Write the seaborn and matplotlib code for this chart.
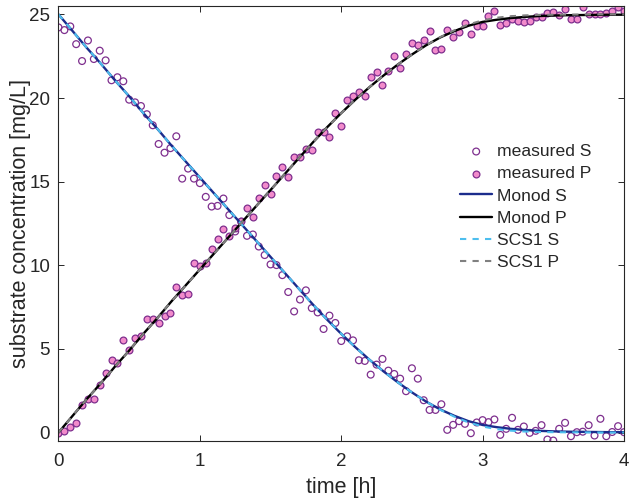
import numpy as np
import pandas as pd
import matplotlib
matplotlib.use("Agg")
import matplotlib.pyplot as plt
import seaborn as sns

# sampling times of the measurements [h] (every 2.5 min)
t_meas = np.arange(97) / 24

s_meas = [24.22, 24.06, 24.28, 23.22, 22.21, 23.44, 22.33, 22.83, 22.25, 21.06,
          21.24, 21.00, 19.90, 19.74, 19.52, 19.03, 18.37, 17.25, 16.73, 17.00,
          17.71, 15.18, 15.78, 15.18, 14.91, 14.09, 13.51, 13.55, 13.99, 13.00,
          12.02, 12.60, 11.76, 11.84, 11.12, 10.61, 10.05, 10.01, 9.41, 8.40,
          7.24, 7.95, 8.50, 7.44, 7.18, 6.19, 6.99, 6.55, 5.47, 5.75,
          5.51, 4.32, 4.28, 3.46, 4.06, 4.40, 3.70, 3.50, 3.22, 2.47,
          3.84, 3.22, 1.93, 1.35, 1.35, 1.69, 0.16, 0.46, 0.68, 0.52,
          -0.04, 0.60, 0.74, 0.62, 0.78, -0.14, 0.22, 0.88, 0.16, 0.36,
          -0.02, 0.10, 0.44, -0.42, -0.48, 0.22, 0.58, -0.22, 0.02, 0.05,
          0.44, -0.18, 0.82, -0.22, 0.03, 0.38, 0.02]

p_meas = [0.00, 0.12, 0.32, 0.54, 1.63, 2.03, 2.03, 2.83, 3.56, 4.32,
          4.18, 5.51, 4.93, 5.65, 5.75, 6.81, 6.81, 6.53, 6.94, 7.14,
          8.73, 8.20, 8.30, 10.13, 9.93, 10.11, 11.00, 11.56, 12.16, 11.76,
          12.20, 12.66, 13.45, 12.86, 14.05, 14.79, 14.29, 15.34, 15.90, 15.30,
          16.50, 16.50, 16.96, 16.91, 17.99, 17.99, 17.69, 19.09, 18.35, 19.86,
          20.14, 20.38, 20.12, 21.27, 21.53, 20.76, 21.63, 22.51, 21.77, 22.61,
          23.30, 23.15, 23.46, 23.98, 22.87, 22.94, 24.06, 23.64, 23.96, 24.46,
          23.82, 24.30, 24.30, 24.91, 25.21, 24.36, 24.50, 24.70, 24.62, 24.52,
          24.62, 24.85, 24.85, 25.06, 25.12, 24.95, 25.31, 24.73, 24.73, 25.47,
          25.01, 25.01, 25.00, 25.06, 25.18, 25.45, 25.21]

# model curves, read every 0.1 h
t_model = np.round(np.arange(41) * 0.1, 1)
monod_s = [25.00, 24.00, 23.00, 22.05, 21.05, 20.10, 19.10, 18.15, 17.15, 16.20,
           15.25, 14.30, 13.35, 12.40, 11.45, 10.50, 9.55, 8.60, 7.65, 6.75,
           5.90, 5.10, 4.35, 3.65, 3.00, 2.40, 1.85, 1.38, 1.00, 0.68,
           0.45, 0.32, 0.22, 0.15, 0.10, 0.07, 0.05, 0.04, 0.03, 0.02, 0.02]
monod_p = [0.00, 1.00, 2.00, 2.95, 3.95, 4.90, 5.90, 6.85, 7.85, 8.80,
           9.75, 10.70, 11.65, 12.60, 13.55, 14.50, 15.45, 16.40, 17.35, 18.25,
           19.10, 19.90, 20.65, 21.35, 22.00, 22.60, 23.15, 23.62, 24.00, 24.32,
           24.55, 24.68, 24.78, 24.85, 24.90, 24.93, 24.95, 24.96, 24.97, 24.98, 24.98]
scs1_s = [25.00, 24.00, 23.00, 22.05, 21.05, 20.10, 19.10, 18.15, 17.15, 16.20,
          15.25, 14.30, 13.35, 12.40, 11.45, 10.50, 9.55, 8.60, 7.65, 6.75,
          5.90, 5.10, 4.35, 3.65, 3.00, 2.40, 1.85, 1.36, 0.95, 0.60,
          0.36, 0.20, 0.11, 0.06, 0.03, 0.02, 0.01, 0.01, 0.00, 0.00, 0.00]
scs1_p = [0.00, 1.00, 2.00, 2.95, 3.95, 4.90, 5.90, 6.85, 7.85, 8.80,
          9.75, 10.70, 11.65, 12.60, 13.55, 14.50, 15.45, 16.40, 17.35, 18.25,
          19.10, 19.90, 20.65, 21.35, 22.00, 22.60, 23.15, 23.64, 24.05, 24.40,
          24.64, 24.80, 24.89, 24.94, 24.97, 24.98, 24.99, 24.99, 25.00, 25.00, 25.00]

meas = pd.DataFrame({"t": t_meas, "S": s_meas, "P": p_meas})
model = pd.DataFrame({"t": t_model, "monod_s": monod_s, "monod_p": monod_p,
                      "scs1_s": scs1_s, "scs1_p": scs1_p})

sns.set_style("ticks")
plt.rcParams["font.family"] = ["Liberation Sans", "DejaVu Sans"]
dark = "#262626"
purple = "#7E2F8E"

fig = plt.figure(figsize=(6.29, 5.01), dpi=100)
ax = fig.add_axes([0.093, 0.12, 0.899, 0.868])

sns.scatterplot(data=meas, x="t", y="S", ax=ax, marker="o", s=24,
                facecolor="none", edgecolor=purple, linewidth=0.9,
                label="measured S")
sns.scatterplot(data=meas, x="t", y="P", ax=ax, marker="o", s=24,
                color="#F28BCB", edgecolor=purple, linewidth=0.9,
                label="measured P")
sns.lineplot(data=model, x="t", y="monod_s", ax=ax, color="#1B2C8C", lw=1.7,
             label="Monod S")
sns.lineplot(data=model, x="t", y="monod_p", ax=ax, color="black", lw=1.7,
             label="Monod P")
sns.lineplot(data=model, x="t", y="scs1_s", ax=ax, color="#4DBEEE", lw=1.5,
             linestyle=(0, (3, 3)), label="SCS1 S")
sns.lineplot(data=model, x="t", y="scs1_p", ax=ax, color="#808080", lw=1.5,
             linestyle=(0, (3, 3)), label="SCS1 P")

ax.set_xlim(0, 4)
ax.set_ylim(-0.5, 25.5)
ax.set_xticks([0, 1, 2, 3, 4])
ax.set_yticks([0, 5, 10, 15, 20, 25])
ax.tick_params(direction="in", length=4, width=0.7, colors=dark,
               labelsize=13.5, top=True, right=True)
ax.tick_params(axis="x", pad=8.5)
ax.tick_params(axis="y", pad=6)
for sp in ax.spines.values():
    sp.set_color(dark)
    sp.set_linewidth(0.8)
ax.set_xlabel("time [h]", fontsize=15.5, color=dark, labelpad=5)
ax.set_ylabel("substrate concentration [mg/L]", fontsize=15.5, color=dark, labelpad=-1)

ax.legend(loc="upper left", bbox_to_anchor=(0.71, 0.683), frameon=False,
          fontsize=12.6, handlelength=1.85, handletextpad=0.25,
          labelspacing=0.40, borderpad=0, borderaxespad=0)

fig.savefig("out.png", dpi=100)
